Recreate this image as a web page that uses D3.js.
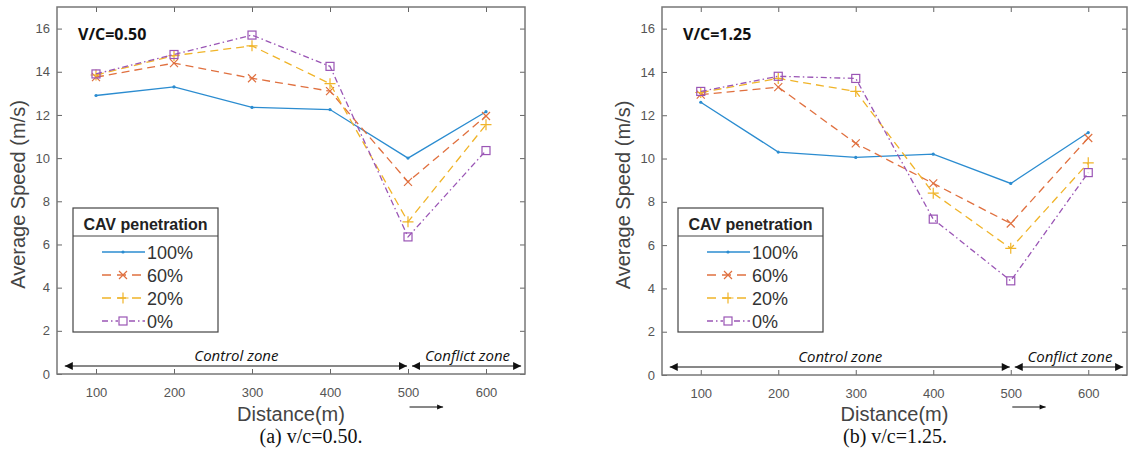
<!DOCTYPE html>
<html>
<head>
<meta charset="utf-8">
<script src="https://cdn.jsdelivr.net/npm/d3@7"></script>
<style>
  body { margin: 0; background: #fff; }
  svg { display: block; }
</style>
</head>
<body>
<div id="chart"></div>
<script>
// data
const distances = [100, 200, 300, 400, 500, 600];
const yTicks = [0, 2, 4, 6, 8, 10, 12, 14, 16];
const penetrations = ["100%", "60%", "20%", "0%"];

// panel (a) v/c = 0.50
const speedA100 = [12.9, 13.3, 12.35, 12.25, 10.0, 12.15];
const speedA60  = [13.75, 14.4, 13.7, 13.1, 8.9, 11.95];
const speedA20  = [13.85, 14.75, 15.2, 13.45, 7.05, 11.55];
const speedA0   = [13.9, 14.8, 15.7, 14.25, 6.35, 10.35];

// panel (b) v/c = 1.25
const speedB100 = [12.6, 10.3, 10.05, 10.2, 8.85, 11.2];
const speedB60  = [12.95, 13.3, 10.7, 8.85, 7.0, 10.95];
const speedB20  = [13.05, 13.7, 13.1, 8.4, 5.85, 9.8];
const speedB0   = [13.1, 13.8, 13.7, 7.2, 4.35, 9.35];

const colors = ["#2b8cd0", "#e0703f", "#f0b429", "#9a55b5"];
const dashes = [null, "8,5", "8,5", "6,3,1.5,3"];
const markers = ["dot", "x", "plus", "square"];

const svg = d3.select("#chart").append("svg")
              .attr("width", 1130)
              .attr("height", 453);

function drawMarker(g, type, color) {
    if (type === "dot") {
        g.append("circle").attr("r", 1.6).attr("fill", color);
    } else if (type === "x") {
        g.append("path").attr("d", "M-4,-4L4,4M-4,4L4,-4")
            .attr("stroke", color).attr("stroke-width", 1.2).attr("fill", "none");
    } else if (type === "plus") {
        g.append("path").attr("d", "M-5.5,0H5.5M0,-5.5V5.5")
            .attr("stroke", color).attr("stroke-width", 1.2).attr("fill", "none");
    } else {
        g.append("rect").attr("x", -4).attr("y", -4).attr("width", 8).attr("height", 8)
            .attr("stroke", color).attr("stroke-width", 1.2).attr("fill", "none");
    }
}

function arrowLine(g, xa, xb, y) {
    g.append("line").attr("x1", xa).attr("x2", xb).attr("y1", y).attr("y2", y)
        .attr("stroke", "#111").attr("stroke-width", 1);
    g.append("path").attr("d", `M${xa},${y}l8,-4v8z`).attr("fill", "#111");
    g.append("path").attr("d", `M${xb},${y}l-8,-4v8z`).attr("fill", "#111");
}

function drawPanel(p) {
    const x = d3.scaleLinear().domain([50, 650]).range([p.x0, p.x1]);
    const y = d3.scaleLinear().domain([0, 17]).range([p.y1, p.y0]);
    const g = svg.append("g");

    // axes with inward ticks
    g.append("g").attr("transform", `translate(0,${p.y1})`)
        .call(d3.axisBottom(x).tickValues(distances).tickSize(-5).tickPadding(14));
    g.append("g").attr("transform", `translate(${p.x0},0)`)
        .call(d3.axisLeft(y).tickValues(yTicks).tickSize(-5).tickPadding(7));
    g.append("g").attr("transform", `translate(0,${p.y0})`)
        .call(d3.axisTop(x).tickValues(distances).tickSize(-5).tickFormat(""));
    g.append("g").attr("transform", `translate(${p.x1},0)`)
        .call(d3.axisRight(y).tickValues(yTicks).tickSize(-5).tickFormat(""));

    g.selectAll(".domain").remove();
    g.selectAll(".tick line").attr("stroke", "#666");
    g.selectAll(".tick text")
        .attr("font-family", "Liberation Sans, Arial, sans-serif")
        .attr("font-size", 13)
        .attr("fill", "#555");

    g.append("rect")
        .attr("x", p.x0).attr("y", p.y0)
        .attr("width", p.x1 - p.x0).attr("height", p.y1 - p.y0)
        .attr("fill", "none").attr("stroke", "#777").attr("stroke-width", 1.5);

    // zone annotations
    arrowLine(g, x(60), x(500) - 1, p.y1 - 8);
    arrowLine(g, x(500) + 4, x(645), p.y1 - 8);
    g.append("text").attr("x", (x(60) + x(500)) / 2).attr("y", p.y1 - 13)
        .attr("text-anchor", "middle").attr("font-style", "italic")
        .attr("font-family", "Open Sans, sans-serif").attr("font-size", 15)
        .attr("fill", "#111").text("Control zone");
    g.append("text").attr("x", (x(500) + x(645)) / 2 + 3).attr("y", p.y1 - 13)
        .attr("text-anchor", "middle").attr("font-style", "italic")
        .attr("font-family", "Open Sans, sans-serif").attr("font-size", 15)
        .attr("fill", "#111").text("Conflict zone");

    // series
    const line = d3.line().x((d, i) => x(distances[i])).y(d => y(d));
    p.series.forEach((s, k) => {
        g.append("path").datum(s)
            .attr("d", line)
            .attr("fill", "none")
            .attr("stroke", colors[k])
            .attr("stroke-width", 1.3)
            .attr("stroke-dasharray", dashes[k]);
        s.forEach((v, i) => {
            const m = g.append("g").attr("transform", `translate(${x(distances[i])},${y(v)})`);
            drawMarker(m, markers[k], colors[k]);
        });
    });

    // V/C label
    g.append("text").attr("x", p.x0 + 21).attr("y", p.y0 + 33)
        .attr("font-family", "Open Sans, sans-serif").attr("font-weight", "bold")
        .attr("font-size", 16).attr("fill", "#111").text(p.tag);

    // legend
    const lx = p.x0 + 16, ly = 208, lw = 145, lh = 124;
    const lg = g.append("g");
    lg.append("rect").attr("x", lx).attr("y", ly).attr("width", lw).attr("height", lh)
        .attr("fill", "#fff").attr("stroke", "#444").attr("stroke-width", 1.2);
    lg.append("line").attr("x1", lx).attr("x2", lx + lw)
        .attr("y1", ly + 28).attr("y2", ly + 28).attr("stroke", "#444").attr("stroke-width", 1);
    lg.append("text").attr("x", lx + lw / 2).attr("y", ly + 22)
        .attr("text-anchor", "middle")
        .attr("font-family", "Liberation Sans, Arial, sans-serif")
        .attr("font-weight", "bold").attr("font-size", 16).attr("fill", "#222")
        .text("CAV penetration");
    penetrations.forEach((name, k) => {
        const ry = ly + 44 + k * 23;
        lg.append("line").attr("x1", lx + 29).attr("x2", lx + 72)
            .attr("y1", ry).attr("y2", ry)
            .attr("stroke", colors[k]).attr("stroke-width", 1.3)
            .attr("stroke-dasharray", k === 0 ? null : (k === 3 ? "6,3,1.5,3" : "9,6"));
        const m = lg.append("g").attr("transform", `translate(${lx + 50},${ry})`);
        if (k === 3) {
            m.append("rect").attr("x", -5).attr("y", -5).attr("width", 10).attr("height", 10).attr("fill", "#fff");
        }
        drawMarker(m, markers[k], colors[k]);
        lg.append("text").attr("x", lx + 74).attr("y", ry + 6.5)
            .attr("font-family", "Liberation Sans, Arial, sans-serif")
            .attr("font-size", 18).attr("fill", "#333").text(name);
    });

    // axis titles
    const cy = (p.y0 + p.y1) / 2 + 4;
    g.append("text")
        .attr("transform", `translate(${p.x0 - 32},${cy}) rotate(-90)`)
        .attr("text-anchor", "middle")
        .attr("font-family", "Liberation Sans, Arial, sans-serif")
        .attr("font-size", 20).attr("fill", "#444")
        .text("Average Speed (m/s)");
    g.append("text").attr("x", (p.x0 + p.x1) / 2).attr("y", 421)
        .attr("text-anchor", "middle")
        .attr("font-family", "Liberation Sans, Arial, sans-serif")
        .attr("font-size", 20).attr("fill", "#444")
        .text("Distance(m)");
    // small arrow under the axis
    g.append("line").attr("x1", x(502)).attr("x2", x(545)).attr("y1", 407).attr("y2", 407)
        .attr("stroke", "#111").attr("stroke-width", 1);
    g.append("path").attr("d", `M${x(545)},407l-6,-2.5v5z`).attr("fill", "#111");

    // caption
    g.append("text").attr("x", p.capX).attr("y", 443)
        .attr("text-anchor", "middle")
        .attr("font-family", "Liberation Serif, Times New Roman, serif")
        .attr("font-size", 20).attr("fill", "#111")
        .text(p.caption);
}

drawPanel({
    x0: 57, x1: 525, y0: 7, y1: 374,
    series: [speedA100, speedA60, speedA20, speedA0],
    tag: "V/C=0.50", caption: "(a) v/c=0.50.", capX: 311
});
drawPanel({
    x0: 662, x1: 1127, y0: 7, y1: 375,
    series: [speedB100, speedB60, speedB20, speedB0],
    tag: "V/C=1.25", caption: "(b) v/c=1.25.", capX: 895
});
</script>
</body>
</html>
